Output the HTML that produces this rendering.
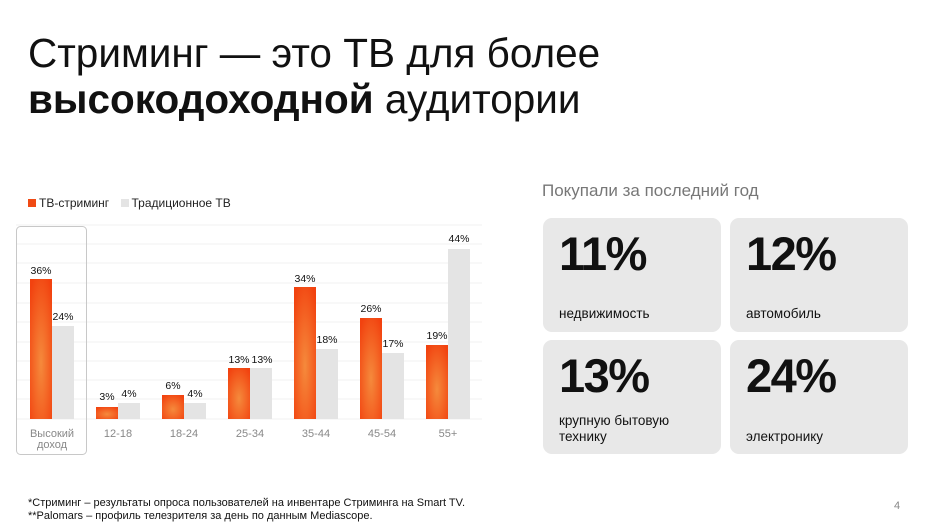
<!DOCTYPE html>
<html><head><meta charset="utf-8"><style>
body{margin:0;width:943px;height:528px;background:#fff;position:relative;overflow:hidden;font-family:"Liberation Sans","DejaVu Sans",sans-serif;color:#111}
.a{position:absolute;white-space:nowrap}
.t{font-size:40.5px;left:28px;line-height:46px}
.tile{position:absolute;background:#e8e8e8;border-radius:9px;width:178px;height:114px}
.big{position:absolute;left:16px;top:8px;font-size:47px;font-weight:bold;letter-spacing:-1.5px}
.lab{position:absolute;left:16px;font-size:13.5px}
</style></head><body>
<div class="a t" style="top:30px">Стриминг — это ТВ для более</div>
<div class="a t" style="top:76px"><b>высокодоходной</b> аудитории</div>

<div class="a" style="left:28px;top:196px;font-size:12px;color:#222"><span style="display:inline-block;width:8px;height:8px;background:#f04a14;margin-right:3px"></span>ТВ-стриминг <span style="display:inline-block;width:8px;height:8px;background:#e4e4e4;margin:0 3px 0 8px"></span>Традиционное ТВ</div>

<svg class="a" style="left:0;top:0" width="500" height="470" font-family="Liberation Sans, sans-serif">
<defs><radialGradient id="g" cx="0.5" cy="0.6" r="0.7"><stop offset="0" stop-color="#f58a3c"/><stop offset="1" stop-color="#f2420f"/></radialGradient></defs>
<g stroke="#f2f2f2" stroke-width="1">
<line x1="16" x2="482" y1="225" y2="225"/><line x1="16" x2="482" y1="244" y2="244"/><line x1="16" x2="482" y1="263" y2="263"/><line x1="16" x2="482" y1="283" y2="283"/><line x1="16" x2="482" y1="303" y2="303"/><line x1="16" x2="482" y1="322" y2="322"/><line x1="16" x2="482" y1="342" y2="342"/><line x1="16" x2="482" y1="361" y2="361"/><line x1="16" x2="482" y1="380" y2="380"/><line x1="16" x2="482" y1="399" y2="399"/><line x1="16" x2="482" y1="419" y2="419"/>
</g>
<rect x="16.5" y="226.5" width="70" height="228" rx="4" fill="none" stroke="#c8c8c8"/>
<g font-size="10.5" fill="#111" text-anchor="middle">
<rect x="30" y="279" width="22" height="140" fill="url(#g)"/><rect x="52" y="326" width="22" height="93" fill="#e4e4e4"/><text x="41" y="274">36%</text><text x="63" y="320">24%</text>
<rect x="96" y="407" width="22" height="12" fill="url(#g)"/><rect x="118" y="403" width="22" height="16" fill="#e4e4e4"/><text x="107" y="400">3%</text><text x="129" y="397">4%</text>
<rect x="162" y="395" width="22" height="24" fill="url(#g)"/><rect x="184" y="403" width="22" height="16" fill="#e4e4e4"/><text x="173" y="389">6%</text><text x="195" y="397">4%</text>
<rect x="228" y="368" width="22" height="51" fill="url(#g)"/><rect x="250" y="368" width="22" height="51" fill="#e4e4e4"/><text x="239" y="363">13%</text><text x="262" y="363">13%</text>
<rect x="294" y="287" width="22" height="132" fill="url(#g)"/><rect x="316" y="349" width="22" height="70" fill="#e4e4e4"/><text x="305" y="282">34%</text><text x="327" y="343">18%</text>
<rect x="360" y="318" width="22" height="101" fill="url(#g)"/><rect x="382" y="353" width="22" height="66" fill="#e4e4e4"/><text x="371" y="312">26%</text><text x="393" y="347">17%</text>
<rect x="426" y="345" width="22" height="74" fill="url(#g)"/><rect x="448" y="249" width="22" height="170" fill="#e4e4e4"/><text x="437" y="339">19%</text><text x="459" y="242">44%</text>
</g>
<g font-size="11" fill="#888" text-anchor="middle">
<text x="52" y="437">Высокий</text><text x="52" y="448">доход</text>
<text x="118" y="437">12-18</text><text x="184" y="437">18-24</text><text x="250" y="437">25-34</text><text x="316" y="437">35-44</text><text x="382" y="437">45-54</text><text x="448" y="437">55+</text>
</g>
</svg>

<div class="a" style="left:542px;top:181px;font-size:17px;color:#777">Покупали за последний год</div>
<div class="tile" style="left:543px;top:218px"><div class="big">11%</div><div class="lab" style="top:88px">недвижимость</div></div>
<div class="tile" style="left:730px;top:218px"><div class="big">12%</div><div class="lab" style="top:88px">автомобиль</div></div>
<div class="tile" style="left:543px;top:340px"><div class="big">13%</div><div class="lab" style="top:73px;line-height:16px">крупную бытовую<br>технику</div></div>
<div class="tile" style="left:730px;top:340px"><div class="big">24%</div><div class="lab" style="top:89px">электронику</div></div>

<div class="a" style="left:28px;top:497px;font-size:11px;line-height:13px;color:#111">*Стриминг – результаты опроса пользователей на инвентаре Стриминга на Smart TV.<br>**Palomars – профиль телезрителя за день по данным Mediascope.</div>
<div class="a" style="left:894px;top:500px;font-size:11px;color:#888">4</div>
</body></html>
